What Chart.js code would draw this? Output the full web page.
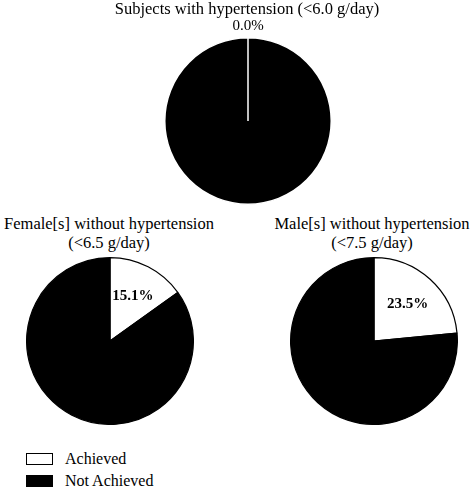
<!DOCTYPE html>
<html>
<head>
<meta charset="utf-8">
<script src="https://cdn.jsdelivr.net/npm/chart.js@4"></script>
<style>
  body { margin: 0; background: #fff; }
  #wrap { position: relative; width: 471px; height: 488px; font-family: "Liberation Serif", "DejaVu Serif", serif; color: #000; }
  canvas { position: absolute; }
  .title { position: absolute; text-align: center; font-size: 16.5px; line-height: 19px; white-space: nowrap; }
  .legend { position: absolute; left: 26px; font-size: 16px; line-height: 18px; }
  .legend div { display: flex; align-items: center; height: 22px; }
  .legend span.box { display: inline-block; width: 25px; height: 10px; border: 1.5px solid #000; margin-right: 12px; }
</style>
</head>
<body>
<div id="wrap">
  <canvas id="pie0" width="216" height="210" style="left:140px;top:0px"></canvas>
  <canvas id="pie1" width="168" height="168" style="left:26px;top:257px"></canvas>
  <canvas id="pie2" width="168" height="168" style="left:290px;top:257px"></canvas>
  <div class="title" id="t0" style="left:47px;top:-1px;width:400px"></div>
  <div class="title" id="t1" style="left:-91px;top:214px;width:400px"></div>
  <div class="title" id="t2" style="left:172px;top:214px;width:400px"></div>
  <div class="legend" style="top:448px">
    <div><span class="box" style="background:#fff"></span>Achieved</div>
    <div><span class="box" style="background:#000"></span>Not Achieved</div>
  </div>
</div>
<script>
// data
let categories = ["Achieved", "Not Achieved"]
let titles = [
  ["Subjects with hypertension (<6.0 g/day)"],
  ["Female[s] without hypertension", "(<6.5 g/day)"],
  ["Male[s] without hypertension", "(<7.5 g/day)"]
]
let achieved = [0.0, 15.1, 23.5]
let notAchieved = [100.0, 84.9, 76.5]
let colorHex = ["#ffffff", "#000000"]

titles.forEach((lines, i) => {
  document.getElementById("t" + i).innerHTML = lines.map(l => l.replace(/</g, "&lt;")).join("<br>")
})

// percent label on the "Achieved" slice
let pctLabel = {
  id: "pctLabel",
  afterDatasetsDraw(chart) {
    let arc = chart.getDatasetMeta(0).data[0]
    let value = chart.data.datasets[0].data[0]
    let p = arc.getProps(["x", "y", "startAngle", "endAngle", "outerRadius"], true)
    let mid = (p.startAngle + p.endAngle) / 2
    let ctx = chart.ctx
    let dist = value === 0 ? p.outerRadius + 12 : p.outerRadius * 0.6
    ctx.save()
    ctx.fillStyle = "#000"
    ctx.font = (value === 0 ? "" : "bold ") + "15px 'Liberation Serif'"
    ctx.textAlign = "center"
    ctx.textBaseline = "middle"
    ctx.fillText(value.toFixed(1) + "%", p.x + Math.cos(mid) * dist, p.y + Math.sin(mid) * dist)
    ctx.restore()
  }
}

let paddings = [
  { top: 37, bottom: 5, left: 24, right: 24 },
  0,
  0
]

for (let i = 0; i < 3; i++) {
  let ctx = document.getElementById("pie" + i).getContext("2d")
  new Chart(ctx, {
    type: "pie",
    data: {
      labels: categories,
      datasets: [{
        data: [achieved[i], notAchieved[i]],
        backgroundColor: colorHex,
        borderColor: i === 0 ? ["#000000", "#ffffff"] : "#000000",
        borderWidth: i === 0 ? 1.5 : 1.2
      }]
    },
    options: {
      responsive: false,
      animation: false,
      layout: { padding: paddings[i] },
      plugins: {
        legend: { display: false },
        tooltip: { enabled: false }
      }
    },
    plugins: [pctLabel]
  })
}
</script>
</body>
</html>
